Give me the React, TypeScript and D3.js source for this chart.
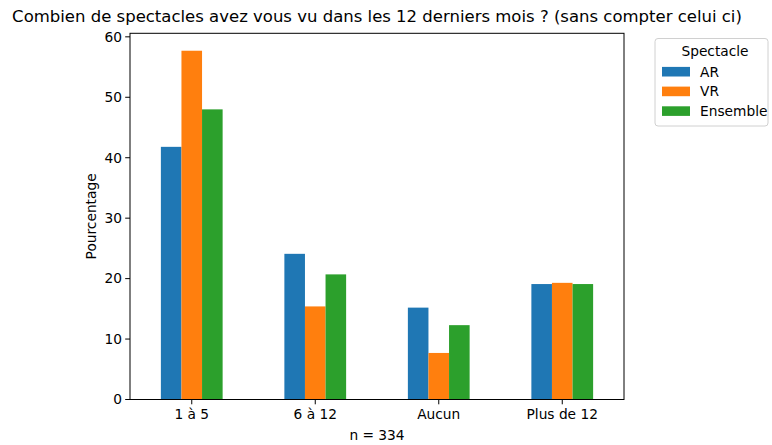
import React from "react";
import * as d3 from "d3";

const categories = ["1 à 5", "6 à 12", "Aucun", "Plus de 12"];
const seriesNames = ["AR", "VR", "Ensemble"];
const valuesAR = [41.8, 24.1, 15.2, 19.1];
const valuesVR = [57.7, 15.4, 7.7, 19.3];
const valuesEnsemble = [48.0, 20.7, 12.3, 19.1];
const colors = ["#1f77b4", "#ff7f0e", "#2ca02c"];
const yTicks = [0, 10, 20, 30, 40, 50, 60];
const title = "Combien de spectacles avez vous vu dans les 12 derniers mois ? (sans compter celui ci)";
const xLabel = "n = 334";
const yLabel = "Pourcentage";
const legendTitle = "Spectacle";

export default function App() {
  const W = 772, H = 445;
  const left = 130, right = 624, top = 33.3, bottom = 399.5;
  const series = [valuesAR, valuesVR, valuesEnsemble];
  const maxV = d3.max(series.flat()) as number;
  const x = d3.scaleLinear().domain([-0.5, categories.length - 0.5]).range([left, right]);
  const y = d3.scaleLinear().domain([0, maxV * 1.05]).range([bottom, top]);
  const bw = 0.5 / series.length;
  const font = "DejaVu Sans, sans-serif";
  const fs = 13.75;
  return (
    <svg width={W} height={H} style={{ position: "fixed", left: 0, top: 0, background: "#fff" }} fontFamily={font}>
      <rect x={0} y={0} width={W} height={H} fill="#fff" />
      {series.map((vals, si) =>
        vals.map((v, ci) => {
          const x0 = x(ci - 0.25 + si * bw);
          const x1 = x(ci - 0.25 + (si + 1) * bw);
          return (
            <rect key={`${si}-${ci}`} x={x0} y={y(v)} width={x1 - x0} height={y(0) - y(v)} fill={colors[si]} />
          );
        })
      )}
      <rect x={left} y={top} width={right - left} height={bottom - top} fill="none" stroke="#000" strokeWidth={1} />
      {yTicks.map((t) => (
        <g key={t}>
          <line x1={left - 4.8} x2={left} y1={y(t)} y2={y(t)} stroke="#000" strokeWidth={1} />
          <text x={left - 8} y={y(t)} dy="0.35em" textAnchor="end" fontSize={fs} fill="#000">{t}</text>
        </g>
      ))}
      {categories.map((c, i) => (
        <g key={c}>
          <line x1={x(i)} x2={x(i)} y1={bottom} y2={bottom + 4.8} stroke="#000" strokeWidth={1} />
          <text x={x(i)} y={bottom + 8} dy="0.8em" textAnchor="middle" fontSize={fs} fill="#000">{c}</text>
        </g>
      ))}
      <text x={(left + right) / 2} y={440} textAnchor="middle" fontSize={fs} fill="#000">{xLabel}</text>
      <text transform={`translate(96,${(top + bottom) / 2}) rotate(-90)`} textAnchor="middle" fontSize={fs} fill="#000">{yLabel}</text>
      <text x={(left + right) / 2} y={22} textAnchor="middle" fontSize={16.5} fill="#000">{title}</text>
      <g>
        <rect x={655} y={38.5} width={113} height={87.5} rx={3} fill="#fff" stroke="#d0d0d0" strokeWidth={1} />
        <text x={715} y={51} dy="0.35em" textAnchor="middle" fontSize={fs} fill="#000">{legendTitle}</text>
        {seriesNames.map((n, i) => (
          <g key={n}>
            <rect x={662} y={71.7 + i * 19.7 - 4.8} width={28} height={9.6} fill={colors[i]} />
            <text x={700} y={71.7 + i * 19.7} dy="0.35em" fontSize={fs} fill="#000">{n}</text>
          </g>
        ))}
      </g>
    </svg>
  );
}
